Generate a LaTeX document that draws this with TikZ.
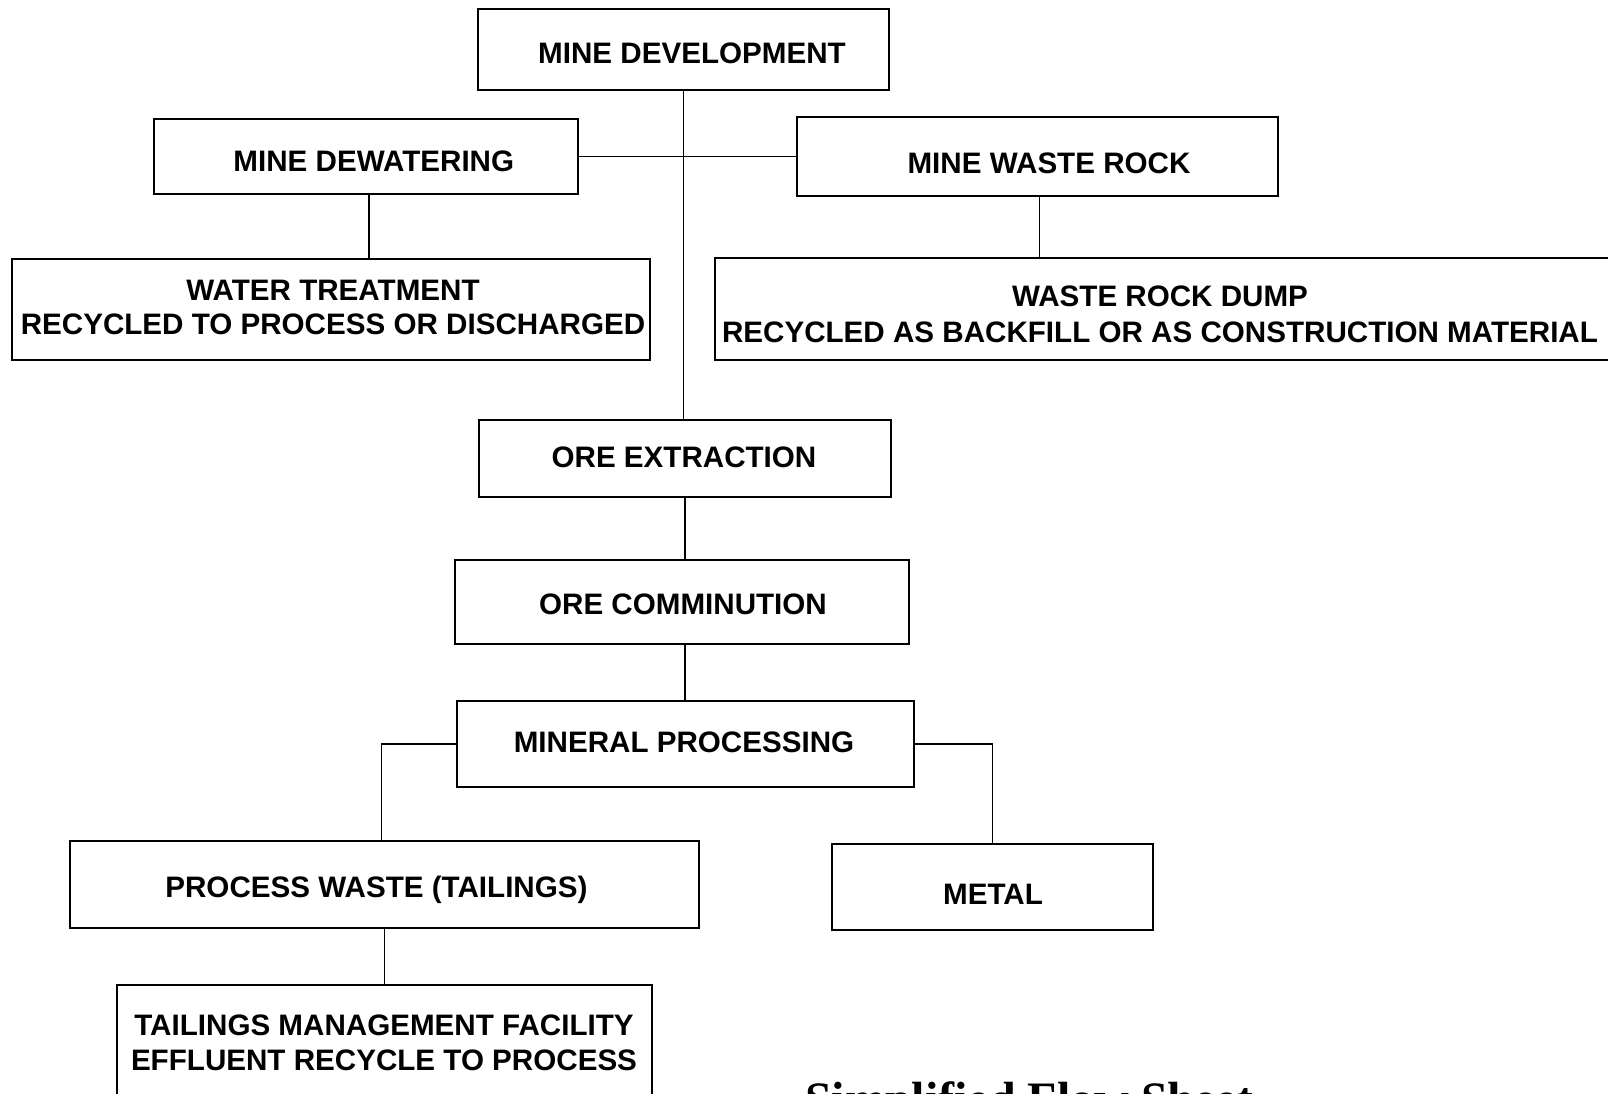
\documentclass[tikz,border=0pt]{standalone}
\usepackage{fontspec}
\setmainfont{Liberation Sans}
\newfontfamily\titlefont{Liberation Serif}
\begin{document}
\begin{tikzpicture}[x=1pt,y=-1pt,
  box/.style={draw=black, line width=2pt, rectangle, inner sep=0pt},
  lbl/.style={inner sep=0pt, align=center, font=\fontsize{29.6}{35}\selectfont\bfseries},
  link/.style={draw=black, line width=1.6pt}]
\useasboundingbox (0,0) rectangle (1608,1093);
\clip (0,0) rectangle (1608,1093);
\fill[white] (0,0) rectangle (1608,1093);
% boxes (centre, width, height)
\node[box, minimum width=411pt, minimum height=81pt] (dev) at (683.5,49.5) {};
\node[box, minimum width=424pt, minimum height=75pt] (dew) at (366,156.5) {};
\node[box, minimum width=481pt, minimum height=79pt] (rock) at (1037.5,156.5) {};
\node[box, minimum width=638pt, minimum height=101pt] (wat) at (331,309.5) {};
\node[box, minimum width=900pt, minimum height=102pt] (dump) at (1165,309) {};
\node[box, minimum width=412pt, minimum height=77pt] (ext) at (685,458.5) {};
\node[box, minimum width=454pt, minimum height=84pt] (com) at (682,602) {};
\node[box, minimum width=457pt, minimum height=86pt] (min) at (685.5,744) {};
\node[box, minimum width=629pt, minimum height=87pt] (waste) at (384.5,884.5) {};
\node[box, minimum width=321pt, minimum height=86pt] (metal) at (992.5,887) {};
\node[box, minimum width=535pt, minimum height=160pt, anchor=north] (tail) at (384.5,984) {};
% texts
\node[lbl] (devt) at (692,53.3) {MINE DEVELOPMENT};
\node[lbl] (dewt) at (373.8,161) {MINE DEWATERING};
\node[lbl] (rockt) at (1049,163) {MINE WASTE ROCK};
\node[lbl, font=\fontsize{29.6}{34}\selectfont\bfseries] (watt) at (333,307) {WATER TREATMENT\\RECYCLED TO PROCESS OR DISCHARGED};
\node[lbl, font=\fontsize{29.6}{36}\selectfont\bfseries] (dumpt) at (1160,314) {WASTE ROCK DUMP\\RECYCLED AS BACKFILL OR AS CONSTRUCTION MATERIAL};
\node[lbl] (extt) at (684,457) {ORE EXTRACTION};
\node[lbl] (comt) at (683,604) {ORE COMMINUTION};
\node[lbl] (mint) at (684,742.5) {MINERAL PROCESSING};
\node[lbl] (wastet) at (376.4,890) {PROCESS WASTE (TAILINGS)};
\node[lbl] (metalt) at (993,894) {METAL};
\node[lbl] (tailt) at (384,1043) {TAILINGS MANAGEMENT FACILITY\\EFFLUENT RECYCLE TO PROCESS};
% title (cut off at the bottom edge)
\node[anchor=base west, inner sep=0pt, font=\titlefont\fontsize{48}{56}\selectfont\bfseries] (title) at (805,1115) {Simplified Flow Sheet};
% connectors
\draw[link] (dev.south) -- (dev.south |- ext.north);
\draw[link] (dew.east) -- (dew.east -| rock.west);
\draw[link] ([xshift=3pt]dew.south) -- ([xshift=3pt]dew.south |- wat.north);
\draw[link] ([xshift=2pt]rock.south) -- ([xshift=2pt]rock.south |- dump.north);
\draw[link] (ext.south) -- (ext.south |- com.north);
\draw[link] ([xshift=3pt]com.south) -- ([xshift=3pt]com.south |- min.north);
\draw[link] (min.west) -| ([xshift=-3pt]waste.north);
\draw[link] (min.east) -| (metal.north);
\draw[link] (waste.south) -- (tail.north);
\end{tikzpicture}
\end{document}
